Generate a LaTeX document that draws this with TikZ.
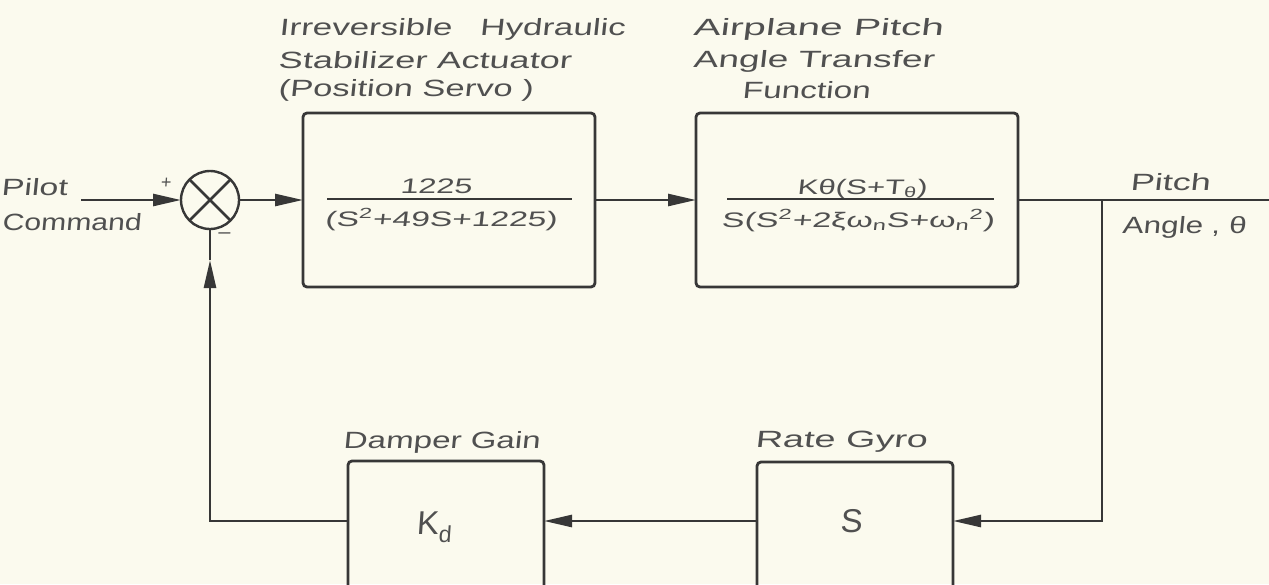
\documentclass[tikz,border=0pt]{standalone}
\usepackage{fontspec}
\usepackage{graphicx}
\usetikzlibrary{arrows.meta}
\newfontfamily\hand{Liberation Sans}[FakeSlant=0.07]
\definecolor{bg}{RGB}{251,250,238}
\definecolor{ink}{RGB}{55,55,55}
\definecolor{txt}{RGB}{80,80,80}
\newcommand\fitw[2]{\resizebox{#1}{\height}{#2}}
\tikzset{
  blk/.style={draw=ink, line width=2.8pt, rounded corners=4pt, inner sep=0pt, outer sep=0pt},
  sumnode/.style={draw=ink, line width=2.4pt, circle, minimum size=58pt, inner sep=0pt, outer sep=0pt},
  wire/.style={draw=ink, line width=2.6pt},
  arr/.style={wire, -{Triangle[length=28pt,width=12pt]}},
  lbl/.style={inner sep=0pt, anchor=base west, text=txt, font=\hand\fontsize{23.5}{28}\selectfont},
  frm/.style={inner sep=0pt, anchor=base, text=txt, font=\hand\fontsize{21}{25}\selectfont},
  big/.style={inner sep=0pt, text=txt, font=\hand\fontsize{33}{38}\selectfont},
}
\begin{document}
\begin{tikzpicture}[x=1pt,y=-1pt]
\fill[bg] (0,0) rectangle (1269,584);
\useasboundingbox (0,0) rectangle (1269,584);
\clip (0,0) rectangle (1269,584);

% blocks
\node[sumnode] (sum) at (210,200) {};
\draw[wire] (sum.north west) -- (sum.south east);
\draw[wire] (sum.north east) -- (sum.south west);
\node[blk, minimum width=292pt, minimum height=174pt] (act) at (449,200) {};
\node[blk, minimum width=322pt, minimum height=174pt] (plane) at (857,200) {};
\node[blk, minimum width=196pt, minimum height=129pt] (damp) at (446,525.5) {};
\node[blk, minimum width=196pt, minimum height=128pt] (gyro) at (855,526) {};

% coordinates
\coordinate (pin) at (81,200);
\coordinate (tap) at (1102,200);
\coordinate (out) at (1269,200);
\coordinate (fbr) at (1102,521);
\coordinate (fbl) at (210,521);
\coordinate (fbup) at (210,260);

% connectors
\draw[arr] (pin) -- (sum.west);
\draw[arr] (sum.east) -- (act.west);
\draw[arr] (act.east) -- (plane.west);
\draw[wire] (plane.east) -- (out);
\draw[arr] (tap) -- (fbr) -- (gyro.east |- fbr);
\draw[arr] (gyro.west |- fbr) -- (damp.east |- fbr);
\draw[arr] (damp.west |- fbr) -- (fbl) -- (fbup);
\draw[wire] (fbup) -- (sum.south);

% top labels
\node[lbl] (l1a) at (279,35) {\fitw{346pt}{Irreversible\hspace{0.8em}Hydraulic}};
\node[lbl] (l1b) at (278,68) {\fitw{293pt}{Stabilizer Actuator}};
\node[lbl] (l1c) at (278,96) {\fitw{255pt}{(Position Servo )}};
\node[lbl] (l2a) at (693,35) {\fitw{250pt}{Airplane Pitch}};
\node[lbl] (l2b) at (693,67) {\fitw{241pt}{Angle Transfer}};
\node[lbl] (l2c) at (742,98) {\fitw{128pt}{Function}};

% input / output labels
\node[lbl] (pil) at (1,195) {\fitw{66pt}{Pilot}};
\node[lbl] (cmd) at (2,230) {\fitw{139pt}{Command}};
\node[lbl] (pit) at (1130,190) {\fitw{80pt}{Pitch}};
\node[lbl] (ang) at (1122,233) {\fitw{124pt}{Angle , θ}};
\node[inner sep=0pt, text=txt, font=\hand\fontsize{18}{20}\selectfont] (plus) at (166,183) {+};
\node[inner sep=0pt, text=txt, font=\hand\fontsize{20}{20}\selectfont] (minus) at (224,236) {\fitw{12pt}{–}};

% formulas
\node[frm] (n1) at (436,193) {\fitw{72pt}{1225}};
\draw[draw=ink, line width=2.2pt] (327,199) -- (572,199);
\node[frm] (d1) at (441,226) {\fitw{232pt}{(S\textsuperscript{2}+49S+1225)}};
\node[frm] (n2) at (862,194) {\fitw{130pt}{Kθ(S+T\textsubscript{θ})}};
\draw[draw=ink, line width=2.2pt] (727,199) -- (994,199);
\node[frm] (d2) at (858,227) {\fitw{273pt}{S(S\textsuperscript{2}+2ξω\textsubscript{n}S+ω\textsubscript{n}\textsuperscript{2})}};

% bottom labels
\node[lbl] (dg) at (343,448) {\fitw{197pt}{Damper Gain}};
\node[lbl] (rg) at (755,447) {\fitw{172pt}{Rate Gyro}};
\node[big] (kd) at (434,527) {K\textsubscript{d}};
\node[big] (s) at (851,521) {S};
\end{tikzpicture}
\end{document}
